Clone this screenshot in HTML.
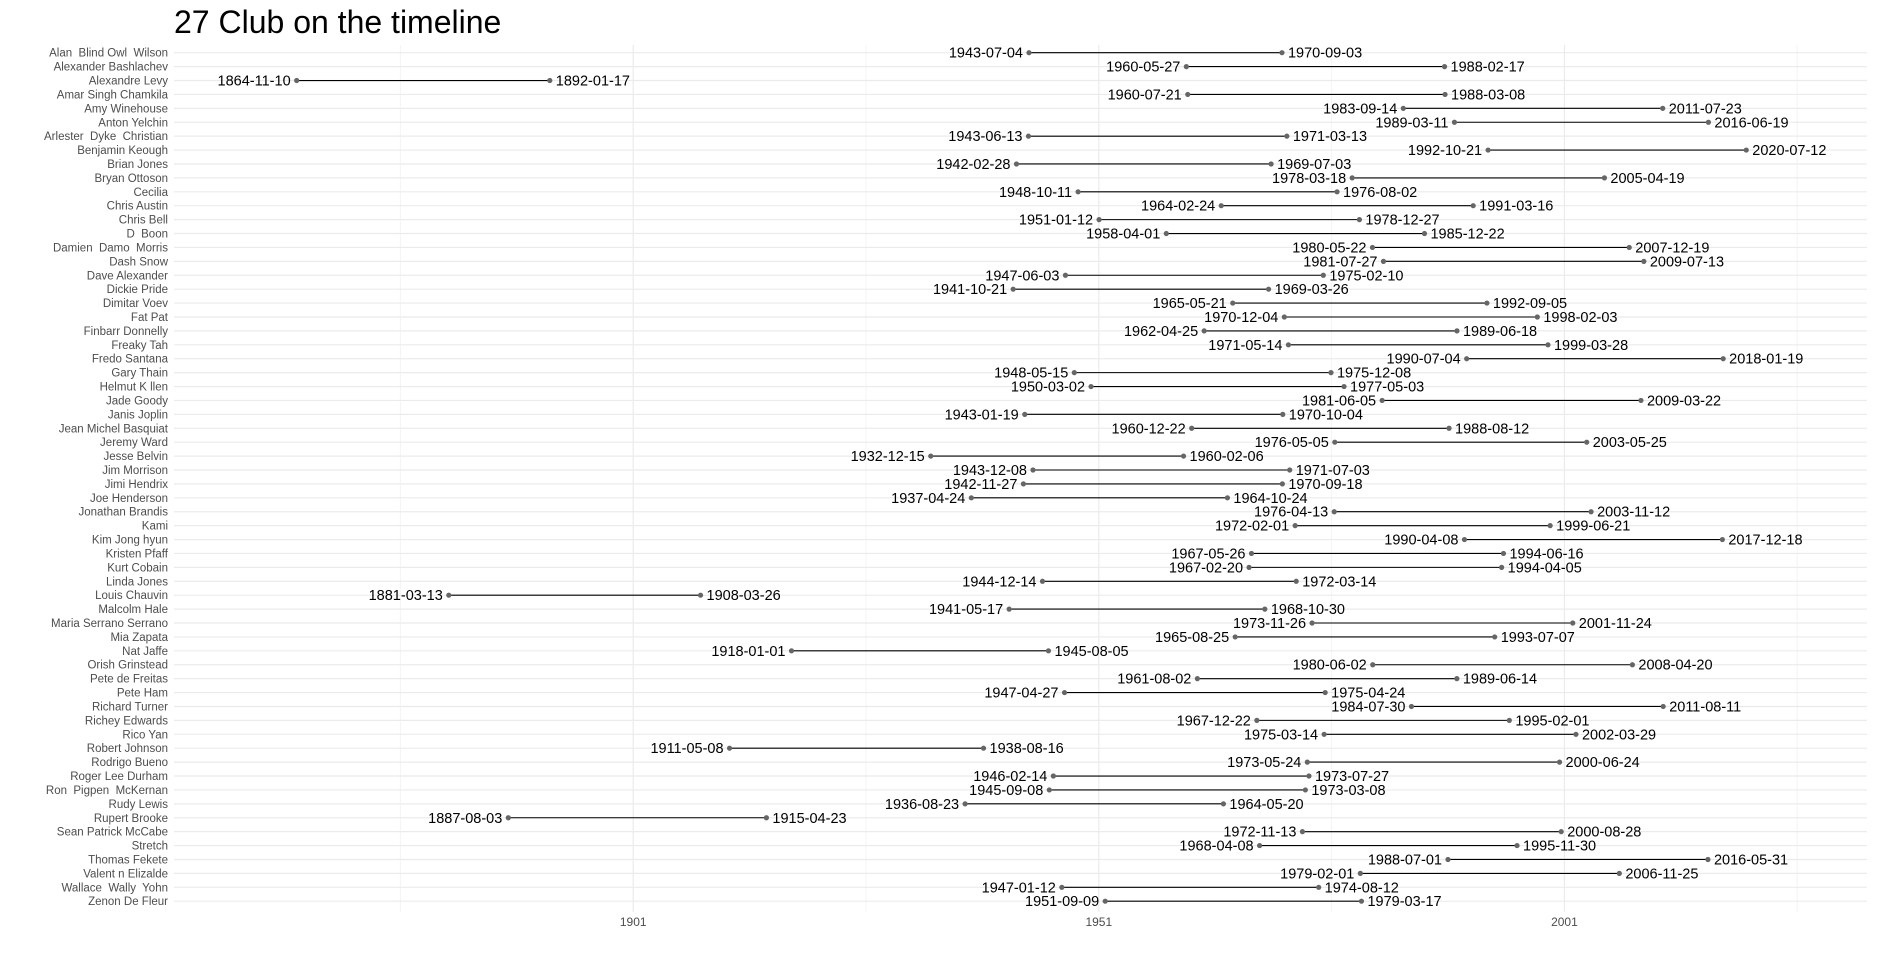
<!DOCTYPE html>
<html><head><meta charset="utf-8"><style>
html,body{margin:0;padding:0;background:#fff;}
svg{display:block;font-family:"Liberation Sans",Arial,sans-serif;}
svg text{white-space:pre;}
</style></head><body>
<svg id="chart" width="1877" height="964">
<text x="174" y="33" font-size="32" fill="#000">27 Club on the timeline</text>
<g id="grid"></g><g id="marks"></g><g id="ylabels"></g><g id="xlabels"></g>
</svg>
<script>
const names=["Alan  Blind Owl  Wilson","Alexander Bashlachev","Alexandre Levy","Amar Singh Chamkila","Amy Winehouse","Anton Yelchin","Arlester  Dyke  Christian","Benjamin Keough","Brian Jones","Bryan Ottoson","Cecilia","Chris Austin","Chris Bell","D  Boon","Damien  Damo  Morris","Dash Snow","Dave Alexander","Dickie Pride","Dimitar Voev","Fat Pat","Finbarr Donnelly","Freaky Tah","Fredo Santana","Gary Thain","Helmut K llen","Jade Goody","Janis Joplin","Jean Michel Basquiat","Jeremy Ward","Jesse Belvin","Jim Morrison","Jimi Hendrix","Joe Henderson","Jonathan Brandis","Kami","Kim Jong hyun","Kristen Pfaff","Kurt Cobain","Linda Jones","Louis Chauvin","Malcolm Hale","Maria Serrano Serrano","Mia Zapata","Nat Jaffe","Orish Grinstead","Pete de Freitas","Pete Ham","Richard Turner","Richey Edwards","Rico Yan","Robert Johnson","Rodrigo Bueno","Roger Lee Durham","Ron  Pigpen  McKernan","Rudy Lewis","Rupert Brooke","Sean Patrick McCabe","Stretch","Thomas Fekete","Valent n Elizalde","Wallace  Wally  Yohn","Zenon De Fleur"];
const births=["1943-07-04","1960-05-27","1864-11-10","1960-07-21","1983-09-14","1989-03-11","1943-06-13","1992-10-21","1942-02-28","1978-03-18","1948-10-11","1964-02-24","1951-01-12","1958-04-01","1980-05-22","1981-07-27","1947-06-03","1941-10-21","1965-05-21","1970-12-04","1962-04-25","1971-05-14","1990-07-04","1948-05-15","1950-03-02","1981-06-05","1943-01-19","1960-12-22","1976-05-05","1932-12-15","1943-12-08","1942-11-27","1937-04-24","1976-04-13","1972-02-01","1990-04-08","1967-05-26","1967-02-20","1944-12-14","1881-03-13","1941-05-17","1973-11-26","1965-08-25","1918-01-01","1980-06-02","1961-08-02","1947-04-27","1984-07-30","1967-12-22","1975-03-14","1911-05-08","1973-05-24","1946-02-14","1945-09-08","1936-08-23","1887-08-03","1972-11-13","1968-04-08","1988-07-01","1979-02-01","1947-01-12","1951-09-09"];
const deaths=["1970-09-03","1988-02-17","1892-01-17","1988-03-08","2011-07-23","2016-06-19","1971-03-13","2020-07-12","1969-07-03","2005-04-19","1976-08-02","1991-03-16","1978-12-27","1985-12-22","2007-12-19","2009-07-13","1975-02-10","1969-03-26","1992-09-05","1998-02-03","1989-06-18","1999-03-28","2018-01-19","1975-12-08","1977-05-03","2009-03-22","1970-10-04","1988-08-12","2003-05-25","1960-02-06","1971-07-03","1970-09-18","1964-10-24","2003-11-12","1999-06-21","2017-12-18","1994-06-16","1994-04-05","1972-03-14","1908-03-26","1968-10-30","2001-11-24","1993-07-07","1945-08-05","2008-04-20","1989-06-14","1975-04-24","2011-08-11","1995-02-01","2002-03-29","1938-08-16","2000-06-24","1973-07-27","1973-03-08","1964-05-20","1915-04-23","2000-08-28","1995-11-30","2016-05-31","2006-11-25","1974-08-12","1979-03-17"];
const majorTicks=["1901","1951","2001"];
const minorTicks=["1876","1926","1976","2026"];

const NS="http://www.w3.org/2000/svg";
const ref=Date.UTC(1901,0,1), pxPerDay=465.6/((Date.UTC(1951,0,1)-ref)/864e5);
function xs(s){const p=s.split("-").map(Number);return 633.2+(Date.UTC(p[0],p[1]-1,p[2])-ref)/864e5*pxPerDay;}
function ys(i){return 52.7+i*13.91;}
const L=174,R=1867,T=45,B=912;
function mk(tag,attrs,parent,txt){const e=document.createElementNS(NS,tag);for(const k in attrs)e.setAttribute(k,attrs[k]);if(txt!==undefined)e.textContent=txt;parent.appendChild(e);return e;}
const grid=document.getElementById("grid"),marks=document.getElementById("marks"),yl=document.getElementById("ylabels"),xl=document.getElementById("xlabels");
minorTicks.forEach(t=>{const x=xs(t+"-01-01");const e=mk("line",{x1:x,x2:x,y1:T,y2:B,stroke:"#f4f4f4","stroke-width":1},grid);

});
majorTicks.forEach(t=>{const x=xs(t+"-01-01");const e=mk("line",{x1:x,x2:x,y1:T,y2:B,stroke:"#ebebeb","stroke-width":1.2},grid);


const lb=mk("text",{x:x,y:926,"font-size":12,fill:"#4d4d4d","text-anchor":"middle"},xl,t);

});
names.forEach((n,i)=>{const y=ys(i);
const g=mk("line",{x1:L,x2:R,y1:y,y2:y,stroke:"#ebebeb","stroke-width":1.2},grid);


const lb=mk("text",{x:168,y:y+4,"font-size":11.5,fill:"#4d4d4d","text-anchor":"end"},yl,n);


const x1=xs(births[i]),x2=xs(deaths[i]);
const ln=mk("line",{x1:x1,x2:x2,y1:y,y2:y,stroke:"#000","stroke-width":1.1},marks);


[x1,x2].forEach(x=>{const c=mk("circle",{cx:x,cy:y,r:2.6,fill:"#666"},marks);

});
const bt=mk("text",{x:x1-6,y:y+5,"font-size":14.5,fill:"#000","text-anchor":"end"},marks,births[i]);


const dt=mk("text",{x:x2+6,y:y+5,"font-size":14.5,fill:"#000"},marks,deaths[i]);


});
</script>
</body></html>
